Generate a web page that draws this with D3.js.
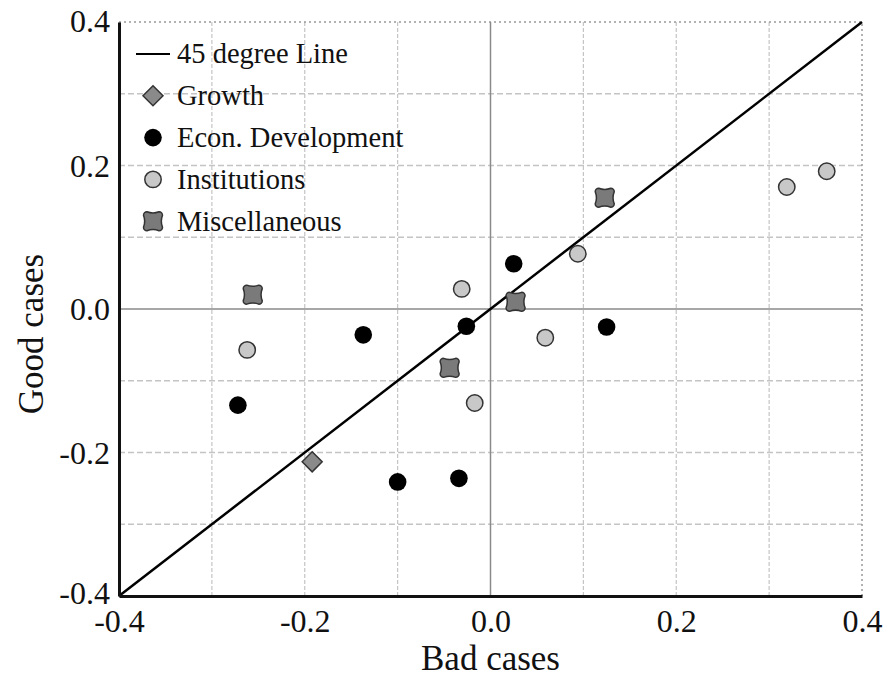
<!DOCTYPE html>
<html>
<head>
<meta charset="utf-8">
<script src="https://cdn.jsdelivr.net/npm/d3@7"></script>
<style>
  body { margin: 0; background: #fff; }
  svg text { font-family: "Liberation Serif", "Times New Roman", serif !important; }
</style>
</head>
<body>
<script>
(function() {

    var width = 888;
    var height = 677;

    // data: [bad cases, good cases]
    const growth = [[-0.192, -0.213]];
    const econ = [[-0.272, -0.134], [-0.137, -0.036], [-0.026, -0.024], [0.025, 0.063],
                  [0.125, -0.025], [-0.100, -0.241], [-0.034, -0.236]];
    const institutions = [[-0.262, -0.057], [-0.031, 0.028], [0.094, 0.077], [0.059, -0.040],
                          [-0.017, -0.131], [0.319, 0.170], [0.362, 0.192]];
    const misc = [[-0.256, 0.020], [0.123, 0.155], [0.027, 0.010], [-0.044, -0.082]];
    const ticks = [-0.4, -0.2, 0.0, 0.2, 0.4];
    const gridTicks = [-0.3, -0.2, -0.1, 0.1, 0.2, 0.3];
    const legendLabels = ["45 degree Line", "Growth", "Econ. Development", "Institutions", "Miscellaneous"];

    const margin = {left: 119, right: 26, top: 22, bottom: 81};

    const x = d3.scaleLinear().domain([-0.4, 0.4]).range([margin.left, width - margin.right]);
    const y = d3.scaleLinear().domain([-0.4, 0.4]).range([height - margin.bottom, margin.top]);

    const svg = d3.select("body")
      .append("svg")
      .attr("width", width)
      .attr("height", height)
      .attr("font-family", "Liberation Serif");

    //grid lines
    svg.selectAll(".hgrid")
        .data(gridTicks)
        .join("line")
        .attr("x1", x(-0.4)).attr("x2", x(0.4))
        .attr("y1", d => y(d)).attr("y2", d => y(d))
        .attr("stroke", "#c4c4c4")
        .attr("stroke-width", 1.3)
        .attr("stroke-dasharray", "6,3");

    svg.selectAll(".vgrid")
        .data(gridTicks)
        .join("line")
        .attr("y1", y(-0.4)).attr("y2", y(0.4))
        .attr("x1", d => x(d)).attr("x2", d => x(d))
        .attr("stroke", "#c4c4c4")
        .attr("stroke-width", 1.2)
        .attr("stroke-dasharray", "4,2");

    //top and right border, dotted
    svg.append("line")
        .attr("x1", x(-0.4)).attr("x2", x(0.4))
        .attr("y1", y(0.4)).attr("y2", y(0.4))
        .attr("stroke", "#999").attr("stroke-width", 1.5)
        .attr("stroke-dasharray", "2,3");
    svg.append("line")
        .attr("x1", x(0.4)).attr("x2", x(0.4))
        .attr("y1", y(-0.4)).attr("y2", y(0.4))
        .attr("stroke", "#999").attr("stroke-width", 1.5)
        .attr("stroke-dasharray", "2,3");

    //zero lines
    svg.append("line")
        .attr("x1", x(0)).attr("x2", x(0))
        .attr("y1", y(-0.4)).attr("y2", y(0.4))
        .attr("stroke", "#8a8a8a").attr("stroke-width", 1.5);
    svg.append("line")
        .attr("x1", x(-0.4)).attr("x2", x(0.4))
        .attr("y1", y(0)).attr("y2", y(0))
        .attr("stroke", "#8a8a8a").attr("stroke-width", 1.5);

    //45 degree line
    svg.append("line")
        .attr("x1", x(-0.4)).attr("y1", y(-0.4))
        .attr("x2", x(0.4)).attr("y2", y(0.4))
        .attr("stroke", "#000").attr("stroke-width", 2.5);

    //axes, hyphen minus like the original
    const fmt = d => d.toFixed(1);
    const xAxis = svg.append("g")
        .attr("transform", `translate(0,${y(-0.4)})`)
        .call(d3.axisBottom(x).tickValues(ticks).tickSize(0).tickPadding(13).tickFormat(fmt));
    const yAxis = svg.append("g")
        .attr("transform", `translate(${x(-0.4)},0)`)
        .call(d3.axisLeft(y).tickValues(ticks).tickSize(0).tickPadding(9).tickFormat(fmt));
    [xAxis, yAxis].forEach(a => {
        a.attr("font-family", "Liberation Serif").attr("font-size", 32);
        a.select(".domain").attr("stroke", "#111").attr("stroke-width", 3);
        a.selectAll("text").attr("font-size", 32).attr("fill", "#111");
    });
    yAxis.selectAll(".tick text").attr("dy", d => d === -0.4 ? "0.22em" : (d === 0.4 ? "0.3em" : "0.34em"));
    xAxis.selectAll(".tick text").attr("dy", "0.71em");

    //axis titles
    svg.append("text")
        .attr("x", x(0)).attr("y", 670)
        .attr("text-anchor", "middle")
        .attr("font-size", 35).attr("fill", "#111")
        .text("Bad cases");
    svg.append("text")
        .attr("transform", `translate(43,${y(0) + 25}) rotate(-90)`)
        .attr("text-anchor", "middle")
        .attr("font-size", 35).attr("fill", "#111")
        .text("Good cases");

    //marker shapes
    const diamond = d3.symbol().type(d3.symbolDiamond2).size(255);
    // squarish marker with rounded corners and slightly pinched sides
    function miscShape(s, rc, dep) {
        const e = s - rc;
        const q = s - 2 * dep;
        return `M${-e},${-s} Q0,${-q} ${e},${-s} A${rc},${rc} 0 0 1 ${s},${-e}`
             + ` Q${q},0 ${s},${e} A${rc},${rc} 0 0 1 ${e},${s}`
             + ` Q0,${q} ${-e},${s} A${rc},${rc} 0 0 1 ${-s},${e}`
             + ` Q${-q},0 ${-s},${-e} A${rc},${rc} 0 0 1 ${-e},${-s} Z`;
    }
    const miscD = miscShape(9.5, 3.5, 1.2);

    //points
    svg.selectAll(".econ")
        .data(econ)
        .join("circle")
        .attr("cx", d => x(d[0])).attr("cy", d => y(d[1]))
        .attr("r", 8.8)
        .attr("fill", "#000");

    svg.selectAll(".inst")
        .data(institutions)
        .join("circle")
        .attr("cx", d => x(d[0])).attr("cy", d => y(d[1]))
        .attr("r", 8.2)
        .attr("fill", "#c8c8c8")
        .attr("stroke", "#333").attr("stroke-width", 1.5);

    svg.selectAll(".growth")
        .data(growth)
        .join("path")
        .attr("transform", d => `translate(${x(d[0])},${y(d[1])})`)
        .attr("d", diamond)
        .attr("fill", "#8a8a8a")
        .attr("stroke", "#333").attr("stroke-width", 1.5);

    svg.selectAll(".misc")
        .data(misc)
        .join("path")
        .attr("transform", d => `translate(${x(d[0])},${y(d[1])})`)
        .attr("d", miscD)
        .attr("fill", "#7a7a7a")
        .attr("stroke", "#333").attr("stroke-width", 1.5);

    //legend
    const legend = svg.append("g");
    const rowY = i => 54 + i * 41.8;
    legendLabels.forEach((lab, i) => {
        legend.append("text")
            .attr("x", 177).attr("y", rowY(i))
            .attr("dy", "0.33em")
            .attr("font-size", 28.5).attr("fill", "#111")
            .text(lab);
    });
    legend.append("line")
        .attr("x1", 136).attr("x2", 170)
        .attr("y1", rowY(0)).attr("y2", rowY(0))
        .attr("stroke", "#000").attr("stroke-width", 2);
    legend.append("path")
        .attr("transform", `translate(153,${rowY(1)})`)
        .attr("d", diamond)
        .attr("fill", "#8a8a8a").attr("stroke", "#333").attr("stroke-width", 1.5);
    legend.append("circle")
        .attr("cx", 153).attr("cy", rowY(2)).attr("r", 8.8)
        .attr("fill", "#000");
    legend.append("circle")
        .attr("cx", 153).attr("cy", rowY(3)).attr("r", 8.2)
        .attr("fill", "#c8c8c8").attr("stroke", "#333").attr("stroke-width", 1.5);
    legend.append("path")
        .attr("transform", `translate(153,${rowY(4)})`)
        .attr("d", miscD)
        .attr("fill", "#7a7a7a").attr("stroke", "#333").attr("stroke-width", 1.5);

})();
</script>
</body>
</html>
